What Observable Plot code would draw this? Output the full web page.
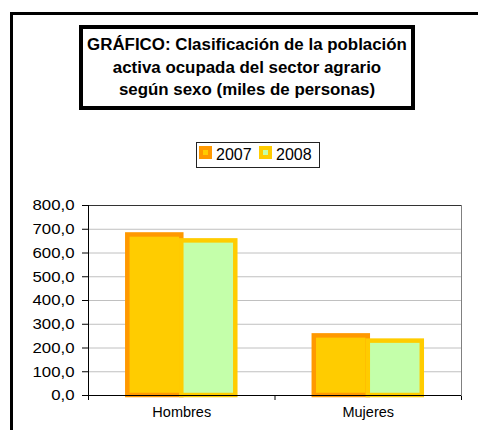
<!DOCTYPE html>
<html>
<head>
<meta charset="utf-8">
<script src="https://cdn.jsdelivr.net/npm/d3@7"></script>
<script src="https://cdn.jsdelivr.net/npm/@observablehq/plot@0.6"></script>
<style>
  html, body { margin: 0; padding: 0; background: #fff; }
  #wrap { position: relative; width: 478px; height: 430px; overflow: hidden; background: #fff; font-family: "Liberation Sans", Arial, sans-serif; }
  #frame { position: absolute; left: 10px; top: 12px; width: 520px; height: 520px; border-left: 3px solid #000; border-top: 3px solid #000; z-index: 5; pointer-events: none; }
  #titlebox { position: absolute; left: 79px; top: 25px; width: 336px; height: 85px; box-sizing: border-box; border: 4px solid #000; background: #fff; z-index: 3; }
  #titletext { position: absolute; left: 79px; top: 34px; width: 336px; text-align: center; font-weight: bold; font-size: 16px; line-height: 22.5px; color: #000; transform: scaleX(1.055); transform-origin: 50% 50%; z-index: 4; white-space: nowrap; }
  #legend { position: absolute; left: 196px; top: 142px; width: 124px; height: 26px; box-sizing: border-box; border: 1px solid #222; background: #fff; z-index: 3; }
  .sw { position: absolute; top: 3px; width: 5px; height: 5px; border: 4.5px solid; }
  .lt { position: absolute; top: 4px; font-size: 16px; line-height: 16px; color: #000; }
  #chart { position: absolute; left: 0; top: 185px; z-index: 2; }
</style>
</head>
<body>
<div id="wrap">
  <div id="frame"></div>
  <div id="titlebox"></div>
  <div id="titletext"></div>
  <div id="legend"></div>
  <div id="chart"></div>
</div>
<script>
// ---- data ----
const titleLines = [
  "GRÁFICO: Clasificación de la población",
  "activa ocupada del sector agrario",
  "según sexo (miles de personas)"
];
const categories = ["Hombres", "Mujeres"];
const years = ["2007", "2008"];
const values2007 = [676, 251];
const values2008 = [651, 229];
const yTicks = [0, 100, 200, 300, 400, 500, 600, 700, 800];
const xBoundaries = [0, 1, 2];

// ---- styles ----
const fills = {"2007": "#FFCC00", "2008": "#C4FFAA"};
const strokes = {"2007": "#FF9900", "2008": "#FFCC00"};

// title
document.getElementById("titletext").innerHTML = titleLines.map(l => `<div>${l}</div>`).join("");

// legend
const legend = document.getElementById("legend");
const legendPos = [{sw: 2, tx: 19}, {sw: 62, tx: 79}];
years.forEach((y, i) => {
  const sw = document.createElement("div");
  sw.className = "sw";
  sw.style.left = legendPos[i].sw + "px";
  sw.style.background = fills[y];
  sw.style.borderColor = strokes[y];
  legend.appendChild(sw);
  const t = document.createElement("div");
  t.className = "lt";
  t.style.left = legendPos[i].tx + "px";
  t.textContent = y;
  legend.appendChild(t);
});

// bar table (layout inside each category band)
const padOuter = 0.2107, barW = 0.2895;
const seriesValues = {"2007": values2007, "2008": values2008};
const table = [];
years.forEach((y, j) => {
  categories.forEach((c, i) => {
    table.push({cat: c, year: y, value: seriesValues[y][i],
      x1: i + padOuter + j * barW, x2: i + padOuter + (j + 1) * barW});
  });
});

const fmt = d => d.toFixed(1).replace(".", ",");

const plot = Plot.plot({
  width: 478,
  height: 245,
  marginLeft: 88,
  marginRight: 17,
  marginTop: 20,
  marginBottom: 35,
  style: {background: "transparent", fontFamily: "'Liberation Sans', Arial, sans-serif", fontSize: "15px", color: "#000"},
  x: {type: "linear", domain: [0, 2], ticks: xBoundaries, tickFormat: () => "", tickSize: 5, label: null},
  y: {domain: [0, 800], ticks: yTicks, tickFormat: fmt, tickSize: 6, tickPadding: 8, label: null},
  marks: [
    Plot.ruleY(yTicks.filter(d => d > 0), {stroke: "#c0c0c0", strokeWidth: 1}),
    Plot.frame({stroke: "#808080"}),
    ...years.map(y => Plot.rect(table.filter(d => d.year === y), {
      x1: "x1", x2: "x2", y1: d => 0, y2: "value",
      fill: fills[y], stroke: strokes[y], strokeWidth: 4.5
    })),
    Plot.ruleY([800], {stroke: "#333"}),
    Plot.ruleY([0], {stroke: "#000"}),
    Plot.ruleX([0], {stroke: "#000"}),
    Plot.text(categories, {x: (d, i) => i + 0.5, frameAnchor: "bottom", dy: 21, text: d => d, fontSize: 14.5, fill: "#000"})
  ]
});
document.getElementById("chart").appendChild(plot);

// stretch y tick labels horizontally like the original
d3.select(plot).selectAll("text").each(function() {
  if (/^\d+,0$/.test(this.textContent)) {
    const t = this.getAttribute("transform") || "";
    this.setAttribute("transform", (t + " scale(1.12,1)").trim());
  }
});
</script>
</body>
</html>
